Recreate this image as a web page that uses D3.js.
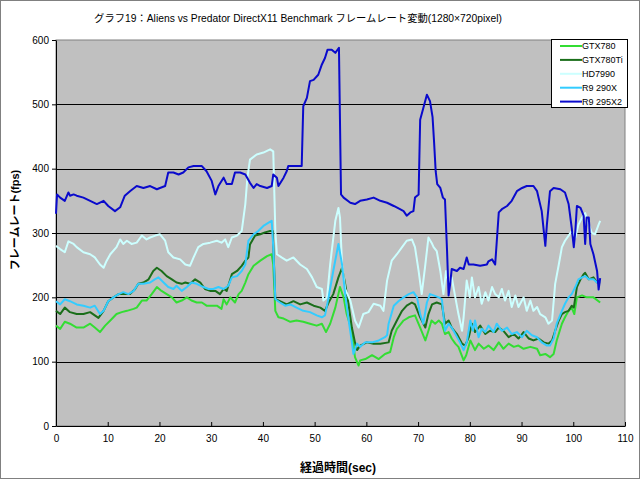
<!DOCTYPE html>
<html>
<head>
<meta charset="utf-8">
<script src="https://cdn.jsdelivr.net/npm/d3@7"></script>
<style>
  body { margin: 0; background: #fff; }
  svg { display: block; font-family: "Liberation Sans", "Noto Sans CJK JP", sans-serif; }
  .axis text { font-size: 10px; fill: #000; }
  .axis path, .axis line { stroke: #000; }
</style>
</head>
<body>
<div id="chart"></div>
<script>
//begin: data (seconds, fps)
var seriesNames = ["GTX780", "GTX780Ti", "HD7990", "R9 290X", "R9 295X2"];
var xTicks = [0, 10, 20, 30, 40, 50, 60, 70, 80, 90, 100, 110];
var yTicks = [0, 100, 200, 300, 400, 500, 600];

var gtx780 = [[0,156],[0.8,151],[1.7,162],[2.7,159],[4.0,153],[5.3,153],[6.6,159],[7.5,153],[8.5,146],[9.5,156],[10.5,164],[11.7,174],[12.7,177],[13.7,179],[15.0,182],[15.6,184],[16.6,195],[17.5,195],[18.5,205],[19.5,216],[20.4,210],[21.4,205],[22.4,200],[23.3,192],[24.3,195],[25.3,200],[26.2,195],[27.2,192],[28.2,192],[29.1,187],[30.1,187],[31.1,187],[32.0,182],[32.4,197],[33.0,189],[33.7,200],[34.6,192],[35.3,205],[35.9,210],[36.6,223],[37.2,236],[38.2,249],[39.5,257],[40.8,264],[41.7,267],[42.0,251],[42.4,179],[43.0,169],[44.0,167],[45.3,162],[46.5,164],[47.8,162],[49.1,159],[50.4,156],[51.4,159],[52.2,146],[53.0,159],[54.0,184],[54.9,216],[55.6,200],[56.2,174],[57.2,148],[57.8,107],[58.5,94],[58.8,102],[59.8,104],[61.1,110],[62.4,104],[63.6,112],[64.6,115],[65.3,138],[65.9,151],[67.2,164],[68.2,169],[69.4,172],[70.4,153],[71.4,133],[72.0,148],[72.6,164],[73.3,159],[74.0,164],[74.6,159],[75.2,143],[75.9,146],[76.5,136],[77.2,128],[77.8,123],[78.8,102],[79.3,110],[80.1,133],[81.0,118],[81.7,128],[82.7,120],[83.6,125],[84.6,118],[85.6,130],[86.5,120],[87.5,128],[88.5,123],[89.4,125],[90.4,120],[91.7,123],[93.0,120],[93.6,110],[94.6,112],[95.5,107],[96.2,112],[96.8,133],[97.8,159],[98.4,169],[99.1,179],[99.7,184],[100.2,174],[100.7,200],[101.7,203],[102.6,200],[103.9,200],[105.2,192]];

var gtx780ti = [[0,179],[0.8,174],[1.7,184],[2.7,177],[4.0,174],[5.3,174],[6.6,177],[7.5,172],[8.2,168],[9.2,179],[10.1,194],[11.1,200],[12.1,205],[13.0,205],[14.3,205],[15.3,213],[15.9,221],[16.9,223],[17.9,228],[18.8,241],[19.5,246],[20.4,241],[21.4,233],[22.4,228],[23.3,223],[24.3,221],[25.0,223],[25.9,221],[26.9,228],[27.9,223],[28.8,213],[29.8,210],[30.8,210],[31.7,205],[32.4,213],[33.0,210],[34.0,236],[35.0,241],[35.9,249],[36.6,257],[37.2,262],[37.5,282],[38.5,296],[39.5,298],[40.4,301],[41.4,303],[41.9,303],[42.4,197],[43.3,194],[44.6,189],[45.9,194],[47.2,189],[48.5,192],[49.8,187],[51.1,184],[52.0,179],[52.7,192],[53.6,205],[54.6,231],[55.3,246],[55.9,221],[56.5,192],[57.2,153],[57.8,130],[58.2,118],[58.8,125],[60.1,130],[61.4,128],[62.7,128],[64.3,130],[64.9,148],[65.9,164],[66.9,179],[67.8,187],[68.8,192],[69.4,189],[70.4,169],[71.4,153],[72.0,174],[72.7,189],[73.6,192],[74.6,189],[75.2,159],[75.9,164],[76.5,153],[77.5,143],[78.5,128],[79.1,125],[79.8,138],[80.4,159],[81.0,146],[82.0,156],[83.0,143],[83.9,148],[84.9,146],[85.6,153],[86.5,148],[87.5,138],[88.5,143],[89.4,136],[90.4,146],[91.4,136],[92.3,133],[93.3,136],[94.3,130],[95.2,128],[95.9,133],[96.5,148],[97.2,164],[97.8,174],[98.4,177],[99.1,179],[99.7,187],[100.1,184],[100.7,216],[101.4,228],[102.0,236],[102.3,238],[103.0,228],[103.9,231],[104.6,223],[105.2,223]];

var hd7990 = [[0,280],[0.8,275],[1.7,270],[2.4,287],[3.4,283],[4.0,278],[5.3,270],[6.6,267],[7.5,262],[8.5,251],[9.2,246],[9.8,257],[10.5,267],[11.7,278],[12.4,290],[13.0,283],[13.7,288],[14.6,283],[15.6,285],[16.6,296],[17.5,290],[18.2,293],[19.2,296],[20.1,298],[21.1,288],[21.7,270],[22.7,262],[24.0,259],[25.0,251],[25.9,249],[26.6,262],[27.5,278],[28.5,283],[29.8,285],[31.1,288],[32.0,285],[32.7,290],[33.3,278],[34.0,293],[35.0,296],[35.9,303],[36.6,345],[37.0,386],[37.5,414],[38.8,422],[40.1,425],[41.4,430],[42.0,427],[42.4,303],[42.7,267],[43.6,262],[44.6,257],[45.9,262],[47.2,251],[48.5,244],[49.5,231],[50.4,216],[51.4,213],[51.7,195],[52.4,200],[53.0,251],[54.0,319],[54.6,339],[54.9,324],[55.3,251],[55.9,213],[56.9,195],[57.8,164],[58.5,153],[59.4,174],[60.4,177],[61.4,190],[62.7,187],[63.3,179],[64.0,226],[64.9,257],[65.9,267],[66.9,278],[67.8,288],[68.8,290],[69.4,278],[70.1,241],[70.7,205],[71.4,251],[72.0,293],[72.6,285],[73.0,278],[73.6,272],[74.3,241],[74.9,205],[75.4,241],[75.9,221],[76.5,231],[77.2,200],[77.8,174],[78.5,148],[78.8,169],[79.4,226],[80.0,200],[80.4,231],[81.0,200],[81.7,216],[82.3,190],[83.0,208],[83.6,195],[84.3,216],[84.9,205],[85.6,200],[86.2,213],[86.8,195],[87.5,210],[88.1,185],[88.8,203],[89.4,185],[90.4,200],[91.0,179],[91.7,195],[92.3,179],[93.0,185],[93.6,174],[94.6,169],[95.2,159],[95.9,164],[96.5,221],[97.2,251],[97.8,278],[98.4,288],[99.1,296],[99.7,303],[100.4,293],[101.0,313],[101.7,324],[102.3,331],[103.0,313],[103.6,300],[104.2,298],[104.9,313],[105.2,319]];

var r9290x = [[0,194],[0.8,189],[1.7,197],[2.7,194],[4.0,189],[5.3,187],[6.6,184],[7.5,187],[8.5,174],[9.2,179],[10.1,194],[11.1,200],[12.1,205],[13.0,208],[14.0,205],[15.0,210],[15.9,221],[16.9,221],[18.2,223],[19.1,228],[19.8,231],[20.8,223],[21.7,216],[22.7,213],[23.3,218],[24.3,210],[25.3,216],[26.2,223],[27.2,221],[28.5,216],[29.5,213],[30.4,213],[31.4,216],[32.4,213],[33.3,218],[34.0,231],[35.0,233],[35.9,241],[36.6,251],[37.2,288],[38.2,298],[39.1,303],[40.1,311],[41.1,316],[41.7,319],[42.0,278],[42.4,197],[43.3,192],[44.3,187],[45.3,189],[46.5,184],[47.8,179],[49.1,177],[50.4,172],[51.4,169],[52.0,172],[52.7,200],[53.6,241],[54.6,283],[55.3,251],[55.9,205],[56.5,169],[57.2,130],[57.5,112],[58.2,128],[58.8,123],[59.8,130],[61.1,130],[62.4,133],[63.6,138],[64.0,141],[64.3,159],[65.3,187],[66.2,194],[67.2,200],[68.2,205],[69.1,208],[69.8,200],[70.4,174],[71.0,159],[71.7,192],[72.3,205],[73.0,203],[74.0,200],[74.6,197],[75.2,148],[75.9,159],[76.5,153],[77.2,143],[78.1,130],[78.8,118],[79.4,130],[80.1,164],[80.6,148],[81.0,164],[81.7,138],[82.3,151],[83.0,146],[83.6,156],[84.6,146],[85.2,159],[86.2,148],[87.2,153],[88.1,143],[89.1,146],[90.1,138],[91.0,148],[92.0,141],[93.0,138],[93.9,130],[94.9,125],[95.5,125],[96.2,136],[96.8,159],[97.8,179],[98.4,190],[99.1,200],[99.7,205],[100.4,216],[101.0,228],[101.7,231],[102.3,233],[103.0,228],[103.9,228],[104.6,223],[105.2,226]];

var r9295x2 = [[0,330],[0.2,360],[0.8,355],[1.7,350],[2.4,363],[2.7,358],[3.4,360],[4.0,358],[5.3,355],[6.6,350],[7.9,345],[9.2,350],[10.1,342],[11.4,334],[12.4,340],[13.3,358],[14.3,365],[15.6,373],[16.9,370],[18.2,373],[19.5,368],[20.1,370],[21.1,373],[21.7,394],[22.7,394],[23.7,391],[24.6,394],[25.6,402],[26.6,404],[28.2,404],[29.1,396],[30.1,381],[30.8,360],[31.4,373],[32.4,386],[33.0,376],[34.0,376],[34.6,394],[35.6,394],[36.6,391],[37.5,378],[38.2,370],[38.8,376],[39.5,373],[40.8,370],[41.7,373],[42.0,391],[42.7,386],[43.0,373],[44.0,386],[44.6,396],[44.9,404],[45.9,404],[47.5,404],[47.8,497],[48.5,510],[49.1,536],[49.8,538],[50.7,546],[51.4,562],[52.0,572],[52.5,585],[53.3,585],[54.0,580],[54.7,588],[55.1,360],[55.6,355],[56.9,347],[57.8,345],[58.8,350],[60.1,352],[61.4,355],[62.7,350],[64.0,347],[65.3,342],[66.5,337],[67.2,334],[67.8,327],[68.5,332],[69.1,334],[69.4,355],[70.1,360],[70.4,476],[71.0,494],[71.7,515],[72.3,505],[72.8,480],[73.1,440],[73.4,396],[73.7,376],[74.3,370],[74.8,355],[75.2,352],[75.6,272],[75.9,203],[76.2,221],[76.5,244],[77.5,241],[78.1,246],[78.8,244],[79.4,262],[79.8,251],[80.7,251],[82.0,249],[83.3,251],[83.6,256],[84.3,259],[84.9,251],[85.6,332],[86.2,337],[87.2,342],[88.1,350],[89.1,365],[90.1,370],[91.0,373],[92.3,373],[93.0,365],[93.9,334],[94.3,303],[94.6,280],[94.9,313],[95.5,365],[96.2,370],[97.5,368],[98.4,363],[99.1,345],[99.7,308],[100.1,278],[100.4,303],[100.7,342],[101.4,339],[102.0,327],[102.3,283],[102.6,324],[103.0,324],[103.3,283],[103.9,267],[104.6,241],[104.9,212],[105.2,230]];

var seriesData = [gtx780, gtx780ti, hd7990, r9290x, r9295x2];
//end: data

var colors = ["#33dd33", "#1a6e1a", "#ccffff", "#33ccff", "#0a0acc"];

var width = 640, height = 479;
var margin = { top: 40, right: 15, bottom: 53, left: 56 };

var svg = d3.select("#chart").append("svg")
  .attr("width", width)
  .attr("height", height);

// outer frame
svg.append("rect")
  .attr("x", 0.5).attr("y", 0.5)
  .attr("width", width - 1).attr("height", height - 1)
  .attr("fill", "#fff")
  .attr("stroke", "#808080");

var x = d3.scaleLinear().domain([0, 110]).range([margin.left, width - margin.right]);
var y = d3.scaleLinear().domain([0, 600]).range([height - margin.bottom, margin.top]);

// plot background
svg.append("rect")
  .attr("x", x(0)).attr("y", y(600))
  .attr("width", x(110) - x(0)).attr("height", y(0) - y(600))
  .attr("fill", "#c0c0c0")
  .attr("stroke", "#808080");

// grid
svg.append("g").selectAll("line")
  .data(yTicks.filter(function (d) { return d > 0 && d < 600; }))
  .enter().append("line")
  .attr("x1", x(0)).attr("x2", x(110))
  .attr("y1", function (d) { return Math.round(y(d)) + 0.5; })
  .attr("y2", function (d) { return Math.round(y(d)) + 0.5; })
  .attr("stroke", "#000");

// axes
svg.append("g")
  .attr("class", "axis")
  .attr("transform", "translate(0," + y(0) + ")")
  .call(d3.axisBottom(x).tickValues(xTicks).tickSizeInner(-4).tickSizeOuter(0).tickPadding(9));

svg.append("g")
  .attr("class", "axis")
  .attr("transform", "translate(" + x(0) + ",0)")
  .call(d3.axisLeft(y).tickValues(yTicks).tickSizeInner(4).tickSizeOuter(0).tickPadding(3));

// lines
var line = d3.line()
  .x(function (d) { return x(d[0]); })
  .y(function (d) { return y(d[1]); });

svg.append("g").selectAll("path")
  .data(seriesData)
  .enter().append("path")
  .attr("d", line)
  .attr("fill", "none")
  .attr("stroke", function (d, i) { return colors[i]; })
  .attr("stroke-width", 2)
  .attr("stroke-linejoin", "round");

// titles
svg.append("text")
  .attr("x", 298).attr("y", 22)
  .attr("text-anchor", "middle")
  .style("font-size", "10.3px")
  .text("グラフ19：Aliens vs Predator DirectX11 Benchmark フレームレート変動(1280×720pixel)");

svg.append("text")
  .attr("transform", "translate(19,220) rotate(-90)")
  .attr("text-anchor", "middle")
  .style("font-size", "11px")
  .style("font-weight", "bold")
  .text("フレームレート(fps)");

svg.append("text")
  .attr("x", 338).attr("y", 472)
  .attr("text-anchor", "middle")
  .style("font-size", "12px")
  .style("font-weight", "bold")
  .text("経過時間(sec)");

// legend
var legend = svg.append("g").attr("transform", "translate(551,39)");
legend.append("rect")
  .attr("x", 0.5).attr("y", 0.5)
  .attr("width", 76).attr("height", 68)
  .attr("fill", "#fff")
  .attr("stroke", "#000");

var item = legend.selectAll(".item")
  .data(seriesNames)
  .enter().append("g")
  .attr("transform", function (d, i) { return "translate(0," + (7 + i * 13.9) + ")"; });

item.append("line")
  .attr("x1", 9).attr("x2", 31)
  .attr("stroke", function (d, i) { return colors[i]; })
  .attr("stroke-width", 2);

item.append("text")
  .attr("x", 31).attr("dy", "0.35em")
  .style("font-size", "9px")
  .text(function (d) { return d; });
</script>
</body>
</html>
